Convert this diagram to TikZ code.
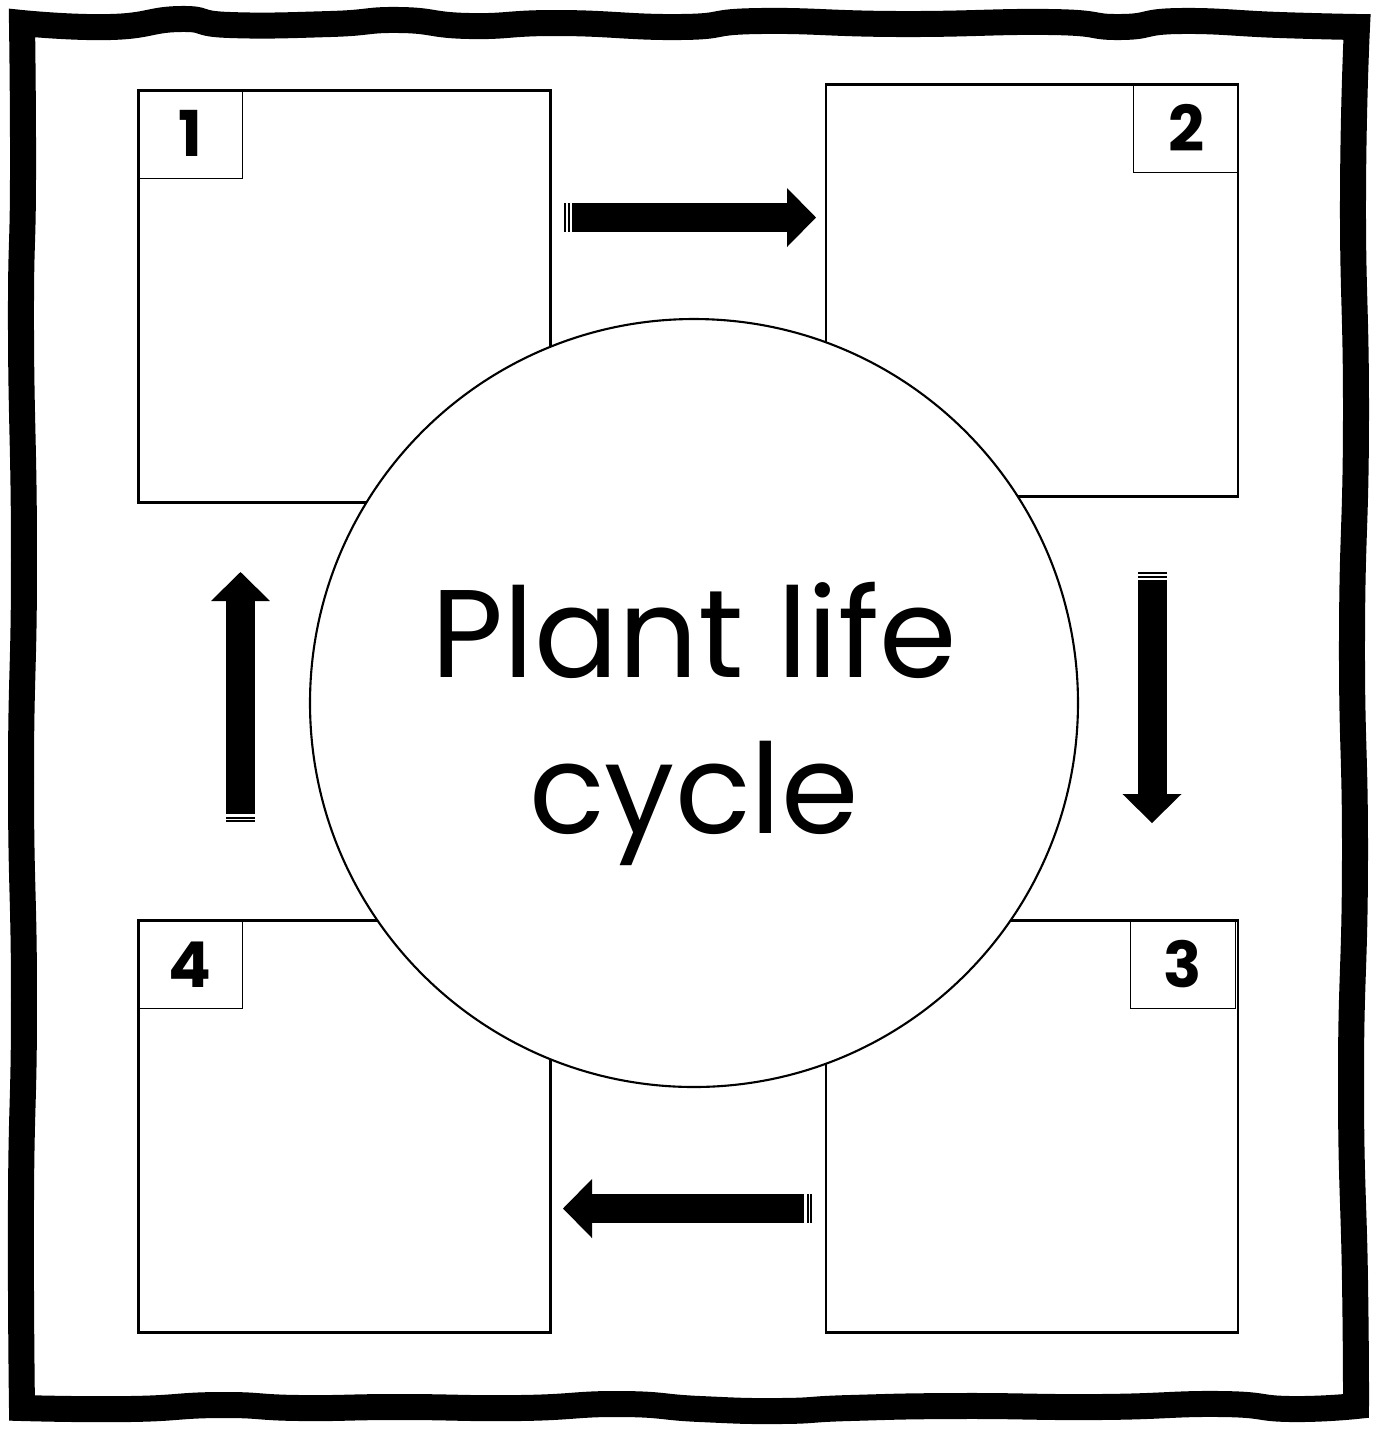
\documentclass[tikz,border=0pt]{standalone}
\usepackage{fontspec}
\setmainfont{Poppins}
\usetikzlibrary{arrows.meta,positioning}
\tikzset{
  panel/.style={draw,line width=0.85pt,minimum width=41.2mm,minimum height=41.2mm,inner sep=0pt},
  tag/.style={draw,line width=0.4pt,minimum width=10.5mm,minimum height=8.9mm,inner sep=0pt,font=\fontsize{18}{20}\selectfont\bfseries},
  hub/.style={circle,draw,fill=white,line width=0.6pt,minimum size=76.8mm,inner sep=0pt},
  hubtext/.style={align=center,inner sep=0pt,font=\fontsize{35.5}{44.5}\selectfont},
  flow/.style={line width=2.9mm,dash pattern=on 0.2mm off 0.15mm on 0.2mm off 0.25mm on 60mm off 0mm,-{Triangle[length=2.9mm,width=5.9mm,line width=0pt]}},
  frame/.style={line width=2.6mm,line join=miter}
}
\begin{document}
\begin{tikzpicture}[x=0.1mm,y=-0.1mm]
    \useasboundingbox (0,0) rectangle (1376,1429);
    % wavy frame
    \draw[frame] (22,23)
      -- plot[smooth,tension=0.9] coordinates {(22,23) (110,27) (180,19) (230,25) (330,24) (400,20) (470,26) (560,23) (680,27) (760,21) (900,24) (1050,22) (1120,27) (1180,21) (1280,25) (1357,27)}
      -- plot[smooth,tension=0.9] coordinates {(1357,27) (1353,200) (1356,420) (1352,640) (1355,860) (1351,1080) (1355,1280) (1356,1406)}
      -- plot[smooth,tension=0.9] coordinates {(1356,1406) (1290,1409) (1220,1404) (1100,1407) (960,1406) (850,1408) (780,1411) (700,1409) (620,1404) (520,1408) (400,1407) (300,1408) (220,1405) (130,1409) (22,1408)}
      -- plot[smooth,tension=0.9] coordinates {(22,1408) (21,1200) (24,1000) (21,780) (24,560) (21,330) (23,180) (22,23)}
      -- cycle;
    \node[panel] (b1) at (344.5,296) {};
    \node[panel] (b2) at (1032,290) {};
    \node[panel] (b3) at (1032,1126.5) {};
    \node[panel] (b4) at (344.5,1126.5) {};
    \node[tag,below right=0pt and 0pt of b1.north west] (t1) {1};
    \node[tag,below left=0pt and 0pt of b2.north east] (t2) {2};
    \node[tag,below left=0pt and 1pt of b3.north east] (t3) {3};
    \node[tag,below right=0pt and 0pt of b4.north west] (t4) {4};
    \coordinate (r1) at (564,217.5);
    \coordinate (r2) at (816,217.5);
    \coordinate (d1) at (1152,572);
    \coordinate (d2) at (1152,823);
    \coordinate (l1) at (812,1208.5);
    \coordinate (l2) at (563,1208.5);
    \coordinate (u1) at (240.5,822);
    \coordinate (u2) at (240.5,572);
    \foreach \a/\b in {r1/r2,d1/d2,l1/l2,u1/u2}
      \draw[flow] (\a) -- (\b);
    \node[hub] (hub) at (694,703) {};
    \node[hubtext] (title) at (694,724) {Plant life\\cycle};
\end{tikzpicture}
\end{document}
